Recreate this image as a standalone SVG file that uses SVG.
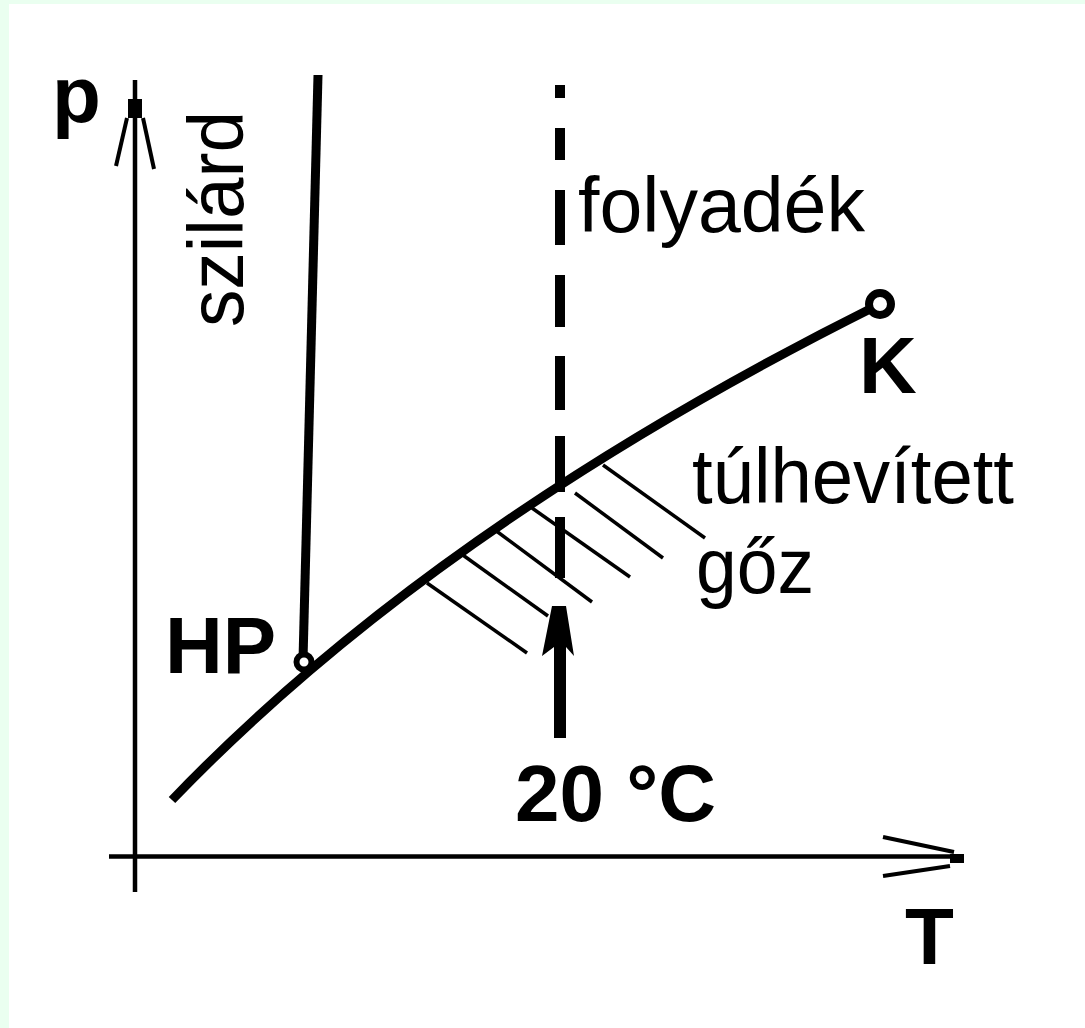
<svg xmlns="http://www.w3.org/2000/svg" width="1085" height="1028" viewBox="0 0 1085 1028">
  <style>
    .bold { font-family: "Liberation Sans", Arial, sans-serif; font-weight: bold; font-size: 80px; fill: #000; }
    .reg { font-family: "Liberation Sans", Arial, sans-serif; font-size: 78px; fill: #000; }
    .axis { stroke: #000; stroke-width: 4.5; fill: none; }
    .barb { stroke: #000; stroke-width: 4; fill: none; }
    .thick { stroke: #000; stroke-width: 9; fill: none; }
    .hatch { stroke: #000; stroke-width: 3.5; fill: none; }
  </style>
  <rect x="0" y="0" width="1085" height="1028" fill="#eafff0"/>
  <rect x="9" y="4" width="1076" height="1024" fill="#ffffff"/>

  <g id="axes">
    <g id="y-axis">
      <line class="axis" x1="135" y1="80" x2="135" y2="892"/>
      <rect x="128" y="99" width="14" height="19" fill="#000"/>
      <line class="barb" x1="127" y1="118" x2="116" y2="166"/>
      <line class="barb" x1="143" y1="118" x2="154" y2="169"/>
    </g>
    <g id="x-axis">
      <line class="axis" x1="109" y1="856.5" x2="952" y2="856.5"/>
      <rect x="950" y="854" width="14" height="9" fill="#000"/>
      <line class="barb" x1="883" y1="837" x2="954" y2="852"/>
      <line class="barb" x1="883" y1="876" x2="950" y2="866"/>
    </g>
  </g>

  <g id="connectors">
    <path id="vapour-curve" class="thick" d="M172,800 Q435,526 878,305"/>
    <line id="melting-line" class="thick" x1="318" y1="75" x2="303" y2="660"/>
    <g id="dashed-20C" fill="#000">
      <rect x="555" y="85" width="10" height="13"/>
      <rect x="555" y="128" width="10" height="32"/>
      <rect x="555" y="190" width="10" height="55"/>
      <rect x="555" y="275" width="10" height="52"/>
      <rect x="555" y="356" width="10" height="54"/>
      <rect x="555" y="436" width="10" height="56"/>
      <rect x="555" y="517" width="10" height="61"/>
    </g>
    <path id="arrow-20C" fill="#000" d="M552,606 L566,606 L574,656 L566,647 L566,738 L554,738 L554,647 L542,656 Z"/>
    <g id="hatching">
      <line class="hatch" x1="427" y1="583" x2="527" y2="653"/>
      <line class="hatch" x1="460" y1="553" x2="548" y2="616"/>
      <line class="hatch" x1="495" y1="530" x2="592" y2="602"/>
      <line class="hatch" x1="532" y1="508" x2="630" y2="577"/>
      <line class="hatch" x1="575" y1="493" x2="663" y2="558"/>
      <line class="hatch" x1="603" y1="465" x2="705" y2="538"/>
    </g>
  </g>

  <g id="node-HP">
    <circle cx="304" cy="662" r="7.5" fill="#fff" stroke="#000" stroke-width="6"/>
    <text class="bold" x="165" y="673">HP</text>
  </g>
  <g id="node-K">
    <circle cx="880" cy="304" r="11" fill="#fff" stroke="#000" stroke-width="8"/>
    <text class="bold" x="859" y="393">K</text>
  </g>

  <g id="labels">
    <text id="label-p" class="bold" x="52" y="122">p</text>
    <text id="label-T" class="bold" x="905" y="964">T</text>
    <text id="label-20C" class="bold" x="515" y="821">20 °C</text>
    <text id="label-folyadek" class="reg" x="578" y="232" textLength="287" lengthAdjust="spacingAndGlyphs">folyadék</text>
    <text id="label-tulhevitett" class="reg" x="692" y="503" textLength="322" lengthAdjust="spacingAndGlyphs">túlhevített</text>
    <text id="label-goz" class="reg" x="696" y="593" textLength="118" lengthAdjust="spacingAndGlyphs">gőz</text>
    <text id="label-szilard" class="reg" transform="translate(243,327) rotate(-90)" x="0" y="0" textLength="216" lengthAdjust="spacingAndGlyphs">szilárd</text>
  </g>
</svg>
